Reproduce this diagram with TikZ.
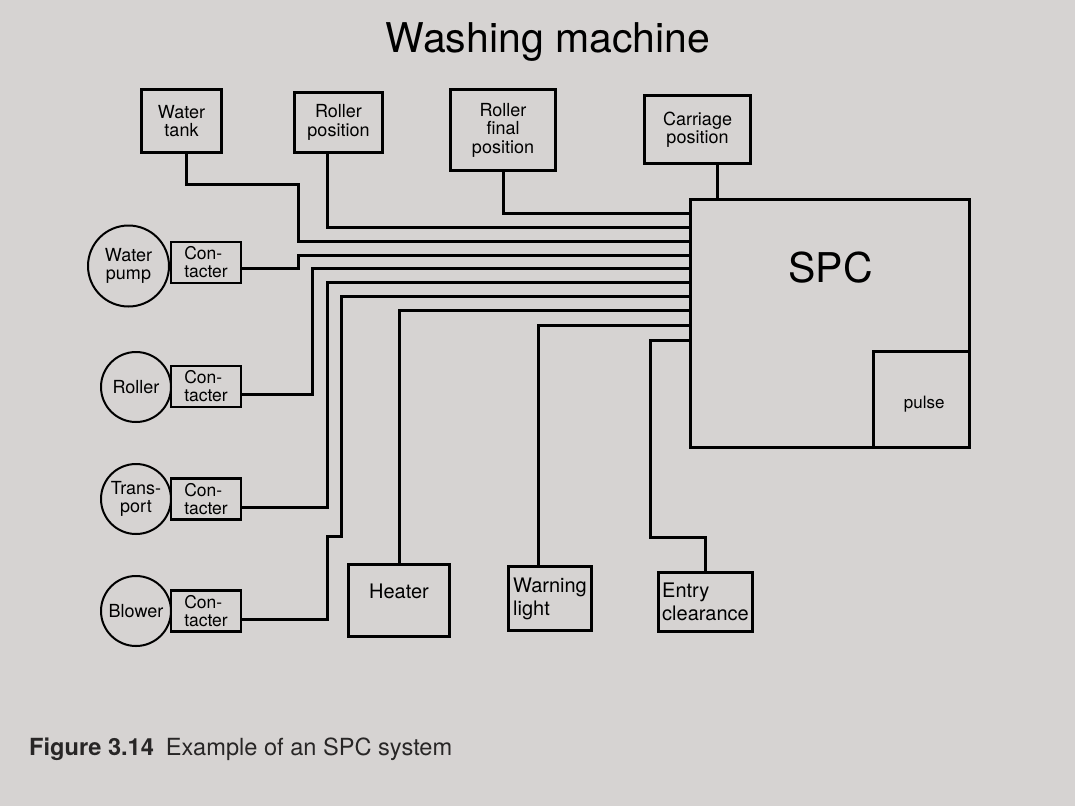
\documentclass[tikz,border=0pt]{standalone}
\usepackage{fontspec}
\setmainfont{TeX Gyre Heros}
\definecolor{paper}{RGB}{214,211,210}
\definecolor{captext}{RGB}{40,38,38}
\newcommand{\titlefont}{\fontsize{41}{41}\selectfont}
\newcommand{\boxfont}{\fontsize{18}{18.5}\selectfont}
\newcommand{\confont}{\fontsize{17.5}{18}\selectfont}
\newcommand{\lowfont}{\fontsize{20}{23}\selectfont}
\newcommand{\pulsefont}{\fontsize{17}{17}\selectfont}
\newcommand{\capfont}{\fontsize{23.6}{23.6}\selectfont}
\begin{document}
\begin{tikzpicture}[x=1pt, y=-1pt,
    wire/.style={line width=3pt},
    topbox/.style={draw, line width=3pt, align=center, inner sep=0pt, font=\boxfont},
    motor/.style={draw, circle, line width=2pt, align=center, inner sep=0pt, font=\boxfont},
    contacter/.style={draw, line width=2.4pt, align=left, inner sep=0pt, font=\confont,
      minimum width=70pt, minimum height=41pt},
    lowbox/.style={draw, line width=3pt, align=left, inner sep=0pt, font=\lowfont}]
    % Paper
    \fill[paper] (0,0) rectangle (1075,806);
    \useasboundingbox (0,0) rectangle (1075,806);
    % Title
    \node (title) at (548,52) [anchor=base, font=\titlefont] {Washing machine};
    % Controller
    \node (spc) at (830,323.5) [draw, line width=3pt, minimum width=279pt, minimum height=248pt] {};
    \node (spctxt) at (830.5,282) [anchor=base, inner sep=0pt, font=\titlefont] {SPC};
    \node (pulse) at (spc.south east) [anchor=south east, draw, line width=3pt,
      minimum width=96.5pt, minimum height=96.5pt] {};
    \node (pulsetxt) at ([xshift=3pt,yshift=-9pt]pulse.center) [anchor=base, inner sep=0pt, font=\pulsefont] {pulse};
    % Sensors
    \node (tank) at (181.5,121) [topbox, minimum width=80pt, minimum height=63pt] {Water\\tank};
    \node (rpos) at (338.5,122.5) [topbox, minimum width=88pt, minimum height=60pt] {Roller\\position};
    \node (rfinal) at (503,130) [topbox, minimum width=105pt, minimum height=81pt] {Roller\\final\\position};
    \node (carr) at (697.5,129.5) [topbox, minimum width=106pt, minimum height=68pt] {Carriage\\position};
    % Motors and contacters
    \node (mpump) at (128.5,266) [motor, minimum size=81pt] {Water\\pump};
    \node (cpump) at (206,262.5) [contacter] {Con-\\tacter};
    \node (mroller) at (136,387) [motor, minimum size=70pt] {Roller};
    \node (croller) at (206,386.5) [contacter] {Con-\\tacter};
    \node (mtrans) at (136,499) [motor, minimum size=70pt] {Trans-\\port};
    \node (ctrans) at (206,499) [contacter] {Con-\\tacter};
    \node (mblow) at (136,611) [motor, minimum size=70pt] {Blower};
    \node (cblow) at (206,611) [contacter] {Con-\\tacter};
    % Outputs
    \node (heater) at (399,600.5) [lowbox, minimum width=101pt, minimum height=72pt] {};
    \node (heatertxt) at ([yshift=-35pt]heater.north) [anchor=base, inner sep=0pt, font=\lowfont] {Heater};
    \node (warn) at (550,598.5) [lowbox, minimum width=83pt, minimum height=64pt] {Warning\\light};
    \node (entry) at (705.5,602) [lowbox, minimum width=94pt, minimum height=59pt] {Entry\\clearance};
    % Wires from the top
    \draw[wire] (rfinal.south) |- (spc.west |- 0,213);
    \draw[wire] ([xshift=-11pt]rpos.south) |- (spc.west |- 0,227);
    \draw[wire] ([xshift=4.5pt]tank.south) |- (298,184) |- (spc.west |- 0,241);
    \draw[wire] ([xshift=19.5pt]carr.south) -- ([xshift=19.5pt]carr.south |- spc.north);
    % Wires from the contacters
    \draw[wire] ([yshift=-6pt]cpump.east) -| (298,255) -- (spc.west |- 0,255);
    \draw[wire] ([yshift=-7.5pt]croller.east) -| (312,268) -- (spc.west |- 0,268);
    \draw[wire] ([yshift=-8pt]ctrans.east) -| (327,282) -- (spc.west |- 0,282);
    \draw[wire] ([yshift=-8pt]cblow.east) -| (327,536) -| (341,296) -- (spc.west |- 0,296);
    % Wires to the outputs
    \draw[wire] (heater.north) |- (spc.west |- 0,310);
    \draw[wire] ([xshift=-12pt]warn.north) |- (spc.west |- 0,325);
    \draw[wire] (entry.north) |- (650,537) |- (spc.west |- 0,340);
    % Caption
    \node (caption) at (29,755) [anchor=base west, inner sep=0pt, font=\capfont, text=captext]
      {\textbf{Figure 3.14}\hspace{12pt}Example of an SPC system};
\end{tikzpicture}
\end{document}
